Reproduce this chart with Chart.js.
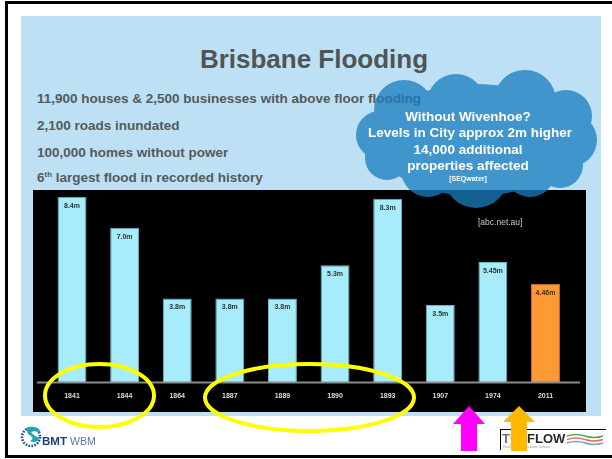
<!DOCTYPE html>
<html>
<head>
<meta charset="utf-8">
<script src="https://cdn.jsdelivr.net/npm/chart.js@4/dist/chart.umd.min.js"></script>
<style>
  html, body { margin: 0; padding: 0; }
  body { width: 612px; height: 459px; position: relative; overflow: hidden; background: #fff;
         font-family: "Liberation Sans", Arial, sans-serif; }
  .abs { position: absolute; white-space: nowrap; line-height: 1; }
  #frame { left: 5px; top: 1px; width: 640px; height: 457px; border: 3px solid #000; box-sizing: border-box; }
  #panel { left: 21px; top: 16px; width: 580px; height: 400px; background: #bde0f5; }
  #title { left: 0; width: 628px; top: 46px; text-align: center; font-size: 26px; font-weight: bold; color: #505553; }
  .bullet { left: 37px; font-size: 13.5px; font-weight: bold; color: #555a58; }
  .bullet sup { font-size: 8px; vertical-align: 5px; line-height: 0; }
  #chartBox { left: 33px; top: 190px; width: 553px; height: 222px; background: #000; }
  #abc { left: 478px; top: 218px; font-size: 8.5px; color: #c8c8c8; }
  .cloudText { left: 368px; width: 200px; text-align: center; font-size: 13.5px; font-weight: bold; color: #fff; }
  svg.layer { position: absolute; left: 0; top: 0; }
</style>
</head>
<body>
<div id="frame" class="abs"></div>
<div id="panel" class="abs"></div>
<div id="title" class="abs">Brisbane Flooding</div>
<div class="abs bullet" style="top:91.6px">11,900 houses &amp; 2,500 businesses with above floor flooding</div>
<div class="abs bullet" style="top:119.3px">2,100 roads inundated</div>
<div class="abs bullet" style="top:145.9px">100,000 homes without power</div>
<div class="abs bullet" style="top:171.3px">6<sup>th</sup> largest flood in recorded history</div>

<div id="chartBox" class="abs"><canvas id="floodChart" width="553" height="222"></canvas></div>
<div id="abc" class="abs">[abc.net.au]</div>

<!-- nuvem -->
<svg class="layer" width="612" height="459">
  <g opacity="0.76" fill="rgb(26,125,191)">
    <ellipse cx="475" cy="140" rx="100" ry="56"/>
    <circle cx="404" cy="110" r="30"/>
    <circle cx="456" cy="103" r="29"/>
    <circle cx="525" cy="101" r="31"/>
    <circle cx="566" cy="116" r="26"/>
    <circle cx="570" cy="140" r="27"/>
    <circle cx="560" cy="165" r="23"/>
    <circle cx="530" cy="172" r="25"/>
    <circle cx="476" cy="176" r="32"/>
    <circle cx="428" cy="170" r="27"/>
    <circle cx="387" cy="158" r="22"/>
    <circle cx="380" cy="135" r="24"/>
  </g>
</svg>
<div class="abs cloudText" style="top:109.6px">Without Wivenhoe?</div>
<div class="abs cloudText" style="top:125.9px">Levels in City approx 2m higher</div>
<div class="abs cloudText" style="top:142.6px">14,000 additional</div>
<div class="abs cloudText" style="top:158.6px">properties affected</div>
<div class="abs cloudText" style="top:174.8px;font-size:7px">[SEQwater]</div>

<!-- logos -->
<svg class="layer" width="612" height="459">
  <circle cx="31" cy="437" r="9" fill="none" stroke="#1d4f86" stroke-width="2.5" stroke-dasharray="1.6 1.4"/>
  <path d="M26 428 Q38 424 41 433 Q36 430 31 432 Q34 436 40 438 Q36 444 30 441 Q36 438 28 434 Z" fill="#23a3b4"/>
  <text x="42" y="444.5" font-family="Liberation Sans, Arial" font-size="11.5" font-weight="bold" fill="#1c3f73">BMT</text>
  <text x="70" y="444.5" font-family="Liberation Sans, Arial" font-size="10.5" fill="#5a78a2">WBM</text>

  <line x1="500" y1="429.5" x2="606" y2="429.5" stroke="#000" stroke-width="1"/>
  <line x1="500.5" y1="429" x2="500.5" y2="450" stroke="#000" stroke-width="1"/>
  <text x="502" y="442.7" font-family="Liberation Sans, Arial" font-size="13" font-weight="bold" fill="#777">TU</text>
  <text x="527" y="442.7" font-family="Liberation Sans, Arial" font-size="13" font-weight="bold" fill="#2a2a2a">FLOW</text>
  <path d="M567 436 Q576 433 585 436 T603 436" fill="none" stroke="#5c9c62" stroke-width="1.5"/>
  <path d="M567 439.5 Q576 436.5 585 439.5 T603 439.5" fill="none" stroke="#e0764a" stroke-width="1.5"/>
  <path d="M567 443 Q576 440 585 443 T603 443" fill="none" stroke="#7f9cc4" stroke-width="1.5"/>
  <text x="503" y="447.5" font-family="Liberation Sans, Arial" font-size="3" fill="#999">Flood and Tide Simulation Software</text>
</svg>

<!-- elipses e setas -->
<svg class="layer" width="612" height="459">
  <ellipse cx="99.5" cy="395.5" rx="54.5" ry="31.5" fill="none" stroke="#ffff00" stroke-width="4"/>
  <ellipse cx="309.5" cy="397.5" rx="104.5" ry="33.5" fill="none" stroke="#ffff00" stroke-width="4"/>
  <polygon points="469,406 485,424 477,424 477,451 461,451 461,424 453,424" fill="#ff00ff"/>
  <polygon points="519,406 535,422 527,422 527,451 511,451 511,422 503,422" fill="#ffb800"/>
</svg>

<script>
// dados do gráfico (altura máxima da cheia, em metros)
const years = ['1841', '1844', '1864', '1887', '1889', '1890', '1893', '1907', '1974', '2011'];
const peakHeights = [8.4, 7.0, 3.8, 3.8, 3.8, 5.3, 8.3, 3.5, 5.45, 4.46];
const highlightYear = '2011';

const CYAN = '#a6ecfa';
const ORANGE = '#ff9933';

function fmtHeight(v) {
    return (Number.isInteger(v) ? v.toFixed(1) : String(v)) + 'm';
}

// linha de base cinza, um pouco mais larga que a área do gráfico
const baseLinePlugin = {
    id: 'baseLine',
    afterDatasetsDraw(chart) {
        const ctx = chart.ctx;
        const y = chart.scales.y.getPixelForValue(0);
        ctx.save();
        ctx.strokeStyle = '#8a8a8a';
        ctx.lineWidth = 2;
        ctx.beginPath();
        ctx.moveTo(4, y);
        ctx.lineTo(547, y);
        ctx.stroke();
        ctx.restore();
    }
};

// rótulos "8.4m" dentro do topo de cada barra
const barLabelPlugin = {
    id: 'barLabels',
    afterDatasetsDraw(chart) {
        const ctx = chart.ctx;
        const meta = chart.getDatasetMeta(0);
        ctx.save();
        ctx.font = 'bold 7px "Liberation Sans", Arial, sans-serif';
        ctx.fillStyle = '#333';
        ctx.textAlign = 'center';
        ctx.textBaseline = 'middle';
        meta.data.forEach((bar, i) => {
            ctx.fillText(fmtHeight(peakHeights[i]), bar.x, bar.y + 9);
        });
        ctx.restore();
    }
};

const config = {
    type: 'bar',
    data: {
        labels: years,
        datasets: [{
            data: peakHeights,
            backgroundColor: c => years[c.dataIndex] === highlightYear ? ORANGE : CYAN,
            borderColor: c => years[c.dataIndex] === highlightYear ? '#c9752a' : '#6fb3bf',
            borderWidth: 1,
            barPercentage: 0.55,
            categoryPercentage: 1
        }]
    },
    options: {
        responsive: false,
        animation: false,
        devicePixelRatio: 1,
        layout: { padding: { left: 12.7, right: 14.2, top: 0, bottom: 2 } },
        scales: {
            x: {
                grid: { display: false, drawTicks: false },
                border: { display: false },
                ticks: {
                    color: '#dcdcdc',
                    padding: 9.5,
                    font: { family: '"Liberation Sans", Arial, sans-serif', size: 7, weight: 'bold' }
                }
            },
            y: { display: false, min: 0, max: 8.7 }
        },
        plugins: {
            legend: { display: false },
            tooltip: { enabled: false }
        }
    },
    plugins: [baseLinePlugin, barLabelPlugin]
};

new Chart(document.getElementById('floodChart').getContext('2d'), config);
</script>
</body>
</html>
